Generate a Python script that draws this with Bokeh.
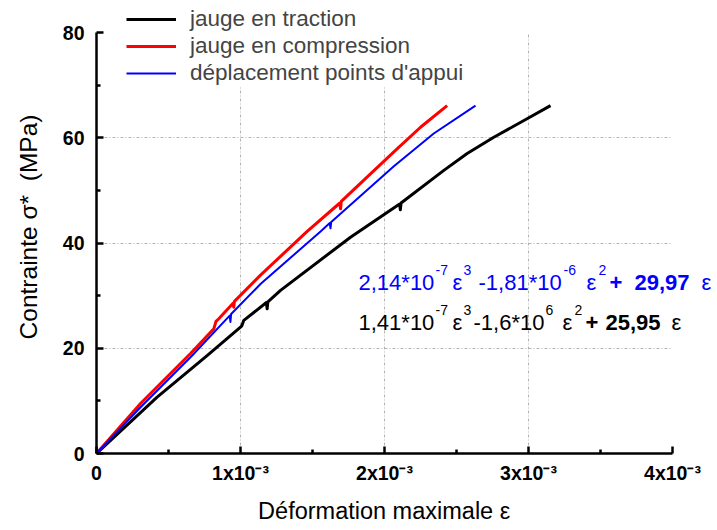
from bokeh.plotting import figure
from bokeh.models import Label, Legend, LegendItem, FixedTicker
from bokeh.embed import file_html
from bokeh.resources import INLINE

# ---------------- data (strain, MPa) ----------------
traction_eps = [0, 0.421e-3, 0.768e-3, 1.000e-3, 1.010e-3, 1.023e-3, 1.180e-3, 1.185e-3, 1.190e-3,
                1.278e-3, 1.764e-3, 2.105e-3, 2.110e-3, 2.115e-3, 2.412e-3, 2.574e-3, 2.759e-3,
                2.990e-3, 3.153e-3]
traction_sig = [0, 10.7, 18.6, 24.0, 24.3, 25.3, 28.7, 27.5, 28.8,
                31.0, 41.1, 47.4, 46.3, 47.6, 53.8, 57.0, 60.1,
                63.6, 66.1]

compression_eps = [0, 0.306e-3, 0.653e-3, 0.815e-3, 0.830e-3, 0.849e-3, 0.950e-3, 0.953e-3, 0.958e-3,
                   1.139e-3, 1.463e-3, 1.690e-3, 1.695e-3, 1.700e-3, 2.065e-3, 2.250e-3, 2.435e-3]
compression_sig = [0, 9.5, 19.0, 23.7, 25.1, 25.6, 28.6, 27.8, 28.9,
                   33.9, 42.2, 47.6, 46.5, 47.9, 57.3, 62.0, 66.1]

appui_eps = [0, 0.306e-3, 0.653e-3, 0.925e-3, 0.930e-3, 0.935e-3, 1.139e-3, 1.556e-3,
             1.620e-3, 1.625e-3, 1.630e-3, 2.065e-3, 2.342e-3, 2.632e-3]
appui_sig = [0, 8.8, 18.3, 26.2, 25.0, 26.5, 32.2, 42.2,
             43.8, 42.8, 44.0, 54.6, 60.8, 66.1]

series_names = ["jauge en traction", "jauge en compression", "déplacement points d'appui"]
x_ticks = [0, 0.001, 0.002, 0.003, 0.004]
x_minor = [0.0005, 0.0015, 0.0025, 0.0035]
x_tick_labels = ["0", "1x10⁻³", "2x10⁻³", "3x10⁻³", "4x10⁻³"]
y_ticks = [0, 20, 40, 60, 80]
y_minor = [10, 30, 50, 70]

eq_blue = [("2,14*10", "r"), ("-7", "s"), ("ε", "r"), ("3", "s"), ("-1,81*10", "r"),
           ("-6", "s"), ("ε", "r"), ("2", "s"), ("+", "b"), ("29,97", "b"), ("ε", "r")]
eq_black = [("1,41*10", "r"), ("-7", "s"), ("ε", "r"), ("3", "s"), ("-1,6*10", "r"),
            ("6", "s"), ("ε", "r"), ("2", "s"), ("+", "b"), ("25,95", "b"), ("ε", "r")]

# ---------------- layout ----------------
FONT = "Liberation Sans"
NB = "\u00a0"
X_MAX, Y_MAX = 0.004, 80
F_LEFT, F_W, F_H = 96, 621, 453          # frame spans to the right/top edges of the page
PX_PER_X = 576 / X_MAX                    # axis 0..4e-3 spans 576 px
PX_PER_Y = 421 / Y_MAX                    # axis 0..80 spans 421 px

p = figure(width=717, height=530, frame_width=F_W, frame_height=F_H,
           x_range=(0, F_W / PX_PER_X), y_range=(0, F_H / PX_PER_Y),
           output_backend="svg", toolbar_location=None,
           min_border_left=F_LEFT, min_border_top=0, min_border_right=0, min_border_bottom=77,
           background_fill_color="white", border_fill_color="white")
p.outline_line_color = None

r_trac = p.line(traction_eps, traction_sig, line_color="black", line_width=3, line_join="round")
r_comp = p.line(compression_eps, compression_sig, line_color="#ff0000", line_width=3, line_join="round")
r_app = p.line(appui_eps, appui_sig, line_color="#0000ff", line_width=2, line_join="round")

for ax in (p.xaxis[0], p.yaxis[0]):
    ax.axis_line_width = 2.5
    ax.major_tick_line_width = 2.5
    ax.minor_tick_line_width = 2.5
    ax.major_tick_in = 7
    ax.major_tick_out = 0
    ax.minor_tick_in = 4
    ax.minor_tick_out = 0
    ax.major_label_text_font = FONT
    ax.major_label_text_font_style = "bold"
    ax.major_label_text_font_size = "19.5px"
    ax.major_label_text_color = "black"
    ax.axis_label_text_font = FONT
    ax.axis_label_text_font_style = "normal"
    ax.axis_label_text_color = "black"

p.xaxis.bounds = (0, X_MAX)
p.xaxis.ticker = FixedTicker(ticks=x_ticks, minor_ticks=x_minor)
p.xaxis.major_label_overrides = {t: s for t, s in zip(x_ticks, x_tick_labels)}
p.xaxis.major_label_standoff = 8
p.xaxis.axis_label = "Déformation maximale ε" + NB * 7
p.xaxis.axis_label_text_font_size = "23.5px"
p.xaxis.axis_label_standoff = 11

p.yaxis.bounds = (0, Y_MAX)
p.yaxis.ticker = FixedTicker(ticks=y_ticks, minor_ticks=y_minor)
p.yaxis.major_label_standoff = 12
p.yaxis.axis_label = "Contrainte σ*" + NB + " (MPa)"
p.yaxis.axis_label_text_font_size = "24.5px"
p.yaxis.axis_label_standoff = 18

p.xgrid.ticker = FixedTicker(ticks=x_ticks[1:-1])
p.ygrid.ticker = FixedTicker(ticks=y_ticks[1:-1])
for g, cb in ((p.xgrid[0], (0, Y_MAX)), (p.ygrid[0], (0, X_MAX))):
    g.grid_line_color = "#b4b4b4"
    g.grid_line_dash = "3 2 1 2"
    g.grid_line_width = 1
    if "cross_bounds" in g.properties():
        g.cross_bounds = cb

legend = Legend(items=[LegendItem(label=series_names[0], renderers=[r_trac]),
                       LegendItem(label=series_names[1], renderers=[r_comp]),
                       LegendItem(label=series_names[2], renderers=[r_app])],
                location=(30, 367), orientation="vertical",
                padding=0, margin=0, spacing=1,
                glyph_width=50, glyph_height=20, label_height=20, label_standoff=14,
                label_text_font=FONT, label_text_font_size="22.5px",
                background_fill_color="white", background_fill_alpha=1.0,
                border_line_color=None)
p.add_layout(legend)

# equations: pieces laid out in page px (frame-relative screen units)
blue_x = [358, 435, 452, 463, 478, 563, 586, 598, 609, 634, 701]
black_x = [358, 435, 452, 463, 473, 545, 562, 574, 585, 605, 671]
Y_AXIS_PX = F_H  # frame bottom in page px


def add_eq(pieces, xs, baseline, color):
    for (txt, kind), x in zip(pieces, xs):
        sup = kind == "s"
        p.add_layout(Label(x=x - F_LEFT, y=Y_AXIS_PX - baseline + (13 if sup else 0),
                           x_units="screen", y_units="screen", text=txt,
                           text_font=FONT, text_font_size="14px" if sup else "22px",
                           text_font_style="bold" if kind == "b" else "normal",
                           text_color=color, text_align="left", text_baseline="alphabetic"))


add_eq(eq_blue, blue_x, 282, "#0000ff")
add_eq(eq_black, black_x, 322, "black")

open("out.html", "w").write(file_html(p, INLINE))
